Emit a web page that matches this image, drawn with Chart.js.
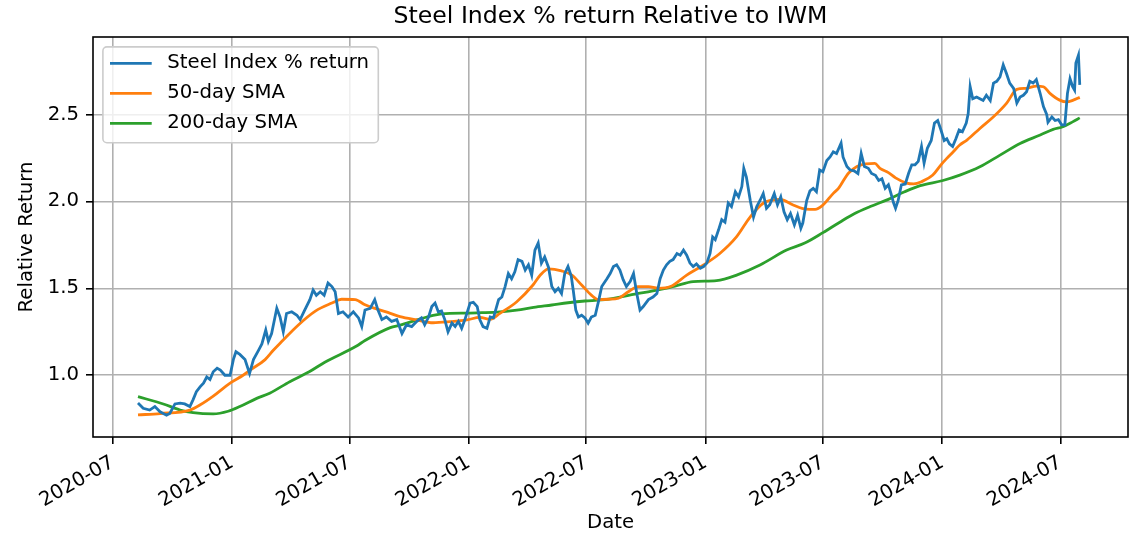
<!DOCTYPE html>
<html>
<head>
<meta charset="utf-8">
<title>Steel Index % return Relative to IWM</title>
<script src="https://cdn.jsdelivr.net/npm/chart.js@4.4.1/dist/chart.umd.min.js"></script>
<style>
  html, body { margin: 0; padding: 0; background: #fff; }
</style>
</head>
<body>
<canvas id="steelChart" width="1140" height="542"></canvas>
<script>
// steel index daily relative return (roughly every few trading days)
const steelDates = [
  '2020-08-09','2020-08-17','2020-08-27','2020-09-04','2020-09-12','2020-09-22','2020-09-27','2020-10-05','2020-10-13','2020-10-20',
  '2020-10-28','2020-11-02','2020-11-07','2020-11-13','2020-11-18','2020-11-23','2020-11-28','2020-12-03','2020-12-09','2020-12-14',
  '2020-12-21','2020-12-29','2021-01-03','2021-01-07','2021-01-13','2021-01-21','2021-01-28','2021-02-03','2021-02-11','2021-02-16',
  '2021-02-22','2021-02-26','2021-03-03','2021-03-11','2021-03-16','2021-03-21','2021-03-26','2021-04-03','2021-04-11','2021-04-16',
  '2021-04-23','2021-05-01','2021-05-06','2021-05-11','2021-05-17','2021-05-23','2021-05-29','2021-06-04','2021-06-09','2021-06-14',
  '2021-06-21','2021-06-29','2021-07-07','2021-07-15','2021-07-20','2021-07-25','2021-08-02','2021-08-09','2021-08-14','2021-08-20',
  '2021-08-27','2021-09-04','2021-09-12','2021-09-20','2021-09-27','2021-10-05','2021-10-13','2021-10-20','2021-10-25','2021-10-31',
  '2021-11-05','2021-11-10','2021-11-15','2021-11-20','2021-11-25','2021-11-30','2021-12-06','2021-12-11','2021-12-16','2021-12-21',
  '2021-12-26','2022-01-03','2022-01-08','2022-01-14','2022-01-18','2022-01-23','2022-01-29','2022-02-03','2022-02-08','2022-02-16',
  '2022-02-21','2022-02-26','2022-03-03','2022-03-08','2022-03-13','2022-03-18','2022-03-24','2022-03-29','2022-04-03','2022-04-08',
  '2022-04-13','2022-04-18','2022-04-23','2022-04-28','2022-05-04','2022-05-09','2022-05-14','2022-05-19','2022-05-24','2022-05-29',
  '2022-06-03','2022-06-08','2022-06-11','2022-06-15','2022-06-19','2022-06-24','2022-06-29','2022-07-04','2022-07-09','2022-07-15',
  '2022-07-20','2022-07-25','2022-08-02','2022-08-07','2022-08-12','2022-08-17','2022-08-22','2022-08-27','2022-09-01','2022-09-07',
  '2022-09-12','2022-09-17','2022-09-22','2022-09-27','2022-10-05','2022-10-12','2022-10-18','2022-10-23','2022-10-28','2022-11-02',
  '2022-11-07','2022-11-12','2022-11-18','2022-11-23','2022-11-28','2022-12-03','2022-12-08','2022-12-13','2022-12-18','2022-12-24',
  '2022-12-29','2023-01-03','2023-01-08','2023-01-12','2023-01-16','2023-01-21','2023-01-26','2023-01-31','2023-02-05','2023-02-10',
  '2023-02-16','2023-02-21','2023-02-26','2023-03-01','2023-03-05','2023-03-11','2023-03-16','2023-03-21','2023-03-26','2023-03-31',
  '2023-04-05','2023-04-10','2023-04-17','2023-04-22','2023-04-27','2023-05-02','2023-05-07','2023-05-12','2023-05-18','2023-05-23',
  '2023-05-28','2023-05-31','2023-06-06','2023-06-11','2023-06-16','2023-06-21','2023-06-26','2023-07-01','2023-07-07','2023-07-12',
  '2023-07-17','2023-07-22','2023-07-29','2023-08-01','2023-08-07','2023-08-12','2023-08-18','2023-08-24','2023-08-29','2023-09-03',
  '2023-09-09','2023-09-14','2023-09-20','2023-09-25','2023-09-30','2023-10-05','2023-10-10','2023-10-14','2023-10-18','2023-10-21',
  '2023-10-25','2023-10-30','2023-11-05','2023-11-10','2023-11-15','2023-11-20','2023-11-25','2023-11-30','2023-12-04','2023-12-09',
  '2023-12-15','2023-12-20','2023-12-25','2023-12-30','2024-01-04','2024-01-08','2024-01-12','2024-01-17','2024-01-22','2024-01-27',
  '2024-02-01','2024-02-07','2024-02-10','2024-02-13','2024-02-17','2024-02-23','2024-02-28','2024-03-04','2024-03-09','2024-03-15',
  '2024-03-20','2024-03-25','2024-03-30','2024-04-04','2024-04-09','2024-04-14','2024-04-20','2024-04-25','2024-04-30','2024-05-05',
  '2024-05-10','2024-05-15','2024-05-20','2024-05-25','2024-05-31','2024-06-05','2024-06-10','2024-06-12','2024-06-18','2024-06-23',
  '2024-06-28','2024-07-03','2024-07-08','2024-07-12','2024-07-16','2024-07-20','2024-07-23','2024-07-25','2024-07-29','2024-07-31'
];
const steelValues = [
  0.84, 0.81, 0.80, 0.82, 0.79, 0.77, 0.78, 0.835, 0.84, 0.835,
  0.82, 0.86, 0.905, 0.935, 0.955, 0.99, 0.975, 1.02, 1.04, 1.03,
  1.00, 1.00, 1.09, 1.135, 1.12, 1.09, 1.01, 1.09, 1.145, 1.18,
  1.26, 1.195, 1.24, 1.385, 1.335, 1.25, 1.355, 1.365, 1.345, 1.32,
  1.375, 1.435, 1.49, 1.46, 1.48, 1.46, 1.53, 1.51, 1.48, 1.355,
  1.365, 1.335, 1.365, 1.33, 1.28, 1.375, 1.385, 1.435, 1.375, 1.32,
  1.335, 1.31, 1.32, 1.24, 1.29, 1.28, 1.31, 1.33, 1.29, 1.335,
  1.395, 1.415, 1.365, 1.37, 1.32, 1.25, 1.30, 1.28, 1.31, 1.27,
  1.32, 1.415, 1.42, 1.395, 1.32, 1.28, 1.27, 1.335, 1.33, 1.435,
  1.45, 1.51, 1.585, 1.555, 1.595, 1.665, 1.655, 1.605, 1.635, 1.575,
  1.72, 1.76, 1.645, 1.68, 1.62, 1.51, 1.48, 1.50, 1.47, 1.585,
  1.625, 1.57, 1.49, 1.375, 1.335, 1.345, 1.33, 1.30, 1.335, 1.345,
  1.425, 1.51, 1.555, 1.585, 1.625, 1.635, 1.605, 1.55, 1.51, 1.54,
  1.585, 1.47, 1.375, 1.395, 1.435, 1.45, 1.47, 1.555, 1.605, 1.635,
  1.655, 1.665, 1.70, 1.69, 1.72, 1.69, 1.645, 1.625, 1.64, 1.615,
  1.625, 1.645, 1.70, 1.795, 1.78, 1.835, 1.895, 1.88, 1.99, 1.97,
  2.055, 2.025, 2.085, 2.19, 2.14, 2.005, 1.91, 1.97, 2.005, 2.045,
  1.96, 1.98, 2.045, 1.98, 2.025, 1.94, 1.895, 1.93, 1.865, 1.92,
  1.845, 1.875, 2.005, 2.06, 2.075, 2.055, 2.18, 2.17, 2.235, 2.255,
  2.285, 2.275, 2.335, 2.255, 2.20, 2.18, 2.175, 2.16, 2.275, 2.20,
  2.19, 2.16, 2.15, 2.12, 2.13, 2.075, 2.095, 2.045, 1.99, 1.96,
  2.005, 2.095, 2.10, 2.16, 2.21, 2.21, 2.23, 2.315, 2.22, 2.305,
  2.35, 2.45, 2.465, 2.41, 2.35, 2.36, 2.33, 2.315, 2.36, 2.41,
  2.40, 2.45, 2.505, 2.66, 2.59, 2.60, 2.59, 2.58, 2.61, 2.58,
  2.68, 2.69, 2.715, 2.785, 2.735, 2.68, 2.65, 2.565, 2.60, 2.61,
  2.63, 2.69, 2.68, 2.70, 2.62, 2.545, 2.50, 2.455, 2.485, 2.465,
  2.47, 2.44, 2.44, 2.62, 2.705, 2.66, 2.64, 2.795, 2.84, 2.67
];

// 50-day moving average
const sma50Dates = [
  '2020-08-09','2020-09-12','2020-10-28','2020-11-13','2020-12-03','2020-12-29','2021-01-18','2021-01-29','2021-02-21','2021-03-06',
  '2021-03-19','2021-04-12','2021-05-10','2021-06-04','2021-06-19','2021-07-10','2021-07-25','2021-08-13','2021-09-02','2021-09-17',
  '2021-10-13','2021-11-07','2021-12-03','2021-12-29','2022-01-18','2022-02-03','2022-02-18','2022-03-16','2022-04-10','2022-04-21',
  '2022-05-04','2022-05-24','2022-06-09','2022-06-24','2022-07-09','2022-07-20','2022-08-04','2022-08-20','2022-09-04','2022-09-19',
  '2022-10-05','2022-10-20','2022-11-08','2022-12-03','2022-12-29','2023-01-23','2023-02-18','2023-03-11','2023-03-31','2023-04-26',
  '2023-05-16','2023-06-05','2023-06-19','2023-06-30','2023-07-17','2023-07-25','2023-08-10','2023-09-05','2023-09-19','2023-09-27',
  '2023-10-10','2023-10-21','2023-11-07','2023-11-18','2023-11-30','2023-12-17','2023-12-30','2024-01-08','2024-01-18','2024-01-28',
  '2024-02-08','2024-02-28','2024-03-20','2024-04-09','2024-04-25','2024-05-10','2024-05-25','2024-06-05','2024-06-15','2024-06-30',
  '2024-07-11','2024-07-21','2024-07-31'
];
const sma50Values = [
  0.772, 0.78, 0.80, 0.83, 0.88, 0.955, 1.00, 1.03, 1.09, 1.145,
  1.195, 1.285, 1.37, 1.415, 1.437, 1.435, 1.405, 1.38, 1.356, 1.337,
  1.318, 1.302, 1.308, 1.318, 1.333, 1.322, 1.356, 1.423, 1.519, 1.575,
  1.612, 1.60, 1.576, 1.519, 1.461, 1.435, 1.437, 1.443, 1.48, 1.51,
  1.51, 1.50, 1.51, 1.576, 1.634, 1.70, 1.797, 1.911, 1.989, 2.011,
  1.979, 1.955, 1.954, 1.975, 2.046, 2.075, 2.165, 2.216, 2.218, 2.19,
  2.165, 2.135, 2.105, 2.10, 2.113, 2.15, 2.21, 2.247, 2.285, 2.324,
  2.352, 2.419, 2.486, 2.563, 2.644, 2.65, 2.663, 2.659, 2.621, 2.582,
  2.572, 2.582, 2.598
];

// 200-day moving average
const sma200Dates = [
  '2020-08-09','2020-09-17','2020-10-13','2020-11-02','2020-12-03','2020-12-26','2021-01-13','2021-02-08','2021-02-28','2021-03-31',
  '2021-04-30','2021-05-24','2021-07-12','2021-07-25','2021-09-02','2021-09-17','2021-10-13','2021-11-07','2021-12-03','2021-12-29',
  '2022-01-23','2022-02-18','2022-03-16','2022-04-11','2022-05-09','2022-06-03','2022-06-29','2022-07-25','2022-08-20','2022-09-14',
  '2022-10-10','2022-11-04','2022-11-15','2022-12-13','2023-01-18','2023-02-18','2023-03-26','2023-05-06','2023-06-03','2023-07-01',
  '2023-07-27','2023-08-19','2023-09-12','2023-10-09','2023-11-04','2023-11-28','2024-01-02','2024-01-28','2024-02-28','2024-03-30',
  '2024-04-30','2024-05-31','2024-06-20','2024-07-05','2024-07-20','2024-07-31'
];
const sma200Values = [
  0.877, 0.835, 0.80, 0.785, 0.778, 0.793, 0.82, 0.867, 0.897, 0.963,
  1.02, 1.075, 1.168, 1.20, 1.274, 1.288, 1.318, 1.345, 1.356, 1.357,
  1.36, 1.365, 1.375, 1.39, 1.404, 1.417, 1.427, 1.433, 1.448, 1.467,
  1.484, 1.503, 1.513, 1.538, 1.544, 1.576, 1.634, 1.72, 1.76, 1.82,
  1.88, 1.93, 1.97, 2.01, 2.055, 2.09, 2.12, 2.151, 2.199, 2.266,
  2.333, 2.381, 2.414, 2.429, 2.457, 2.48
];

const xTickDates = ['2020-07-01','2021-01-01','2021-07-01','2022-01-01','2022-07-01','2023-01-01','2023-07-01','2024-01-01','2024-07-01'];
const yTickValues = [1.0, 1.5, 2.0, 2.5];
const chartTitle = 'Steel Index % return Relative to IWM';

function toPoints(dates, values) {
  return dates.map((d, i) => ({ x: Date.parse(d), y: values[i] }));
}

Chart.defaults.font.family = '"DejaVu Sans", sans-serif';
Chart.defaults.color = '#000';

// matplotlib-ish frame, title centred over the axes, and in-axes legend
const axesDecor = {
  id: 'axesDecor',
  afterDatasetsDraw(chart) {
    const { ctx, chartArea: a } = chart;
    ctx.save();
    ctx.strokeStyle = '#000';
    ctx.lineWidth = 1.6;
    ctx.strokeRect(a.left, a.top, a.right - a.left, a.bottom - a.top);
    ctx.restore();
  },
  afterDraw(chart) {
    const { ctx, chartArea: a } = chart;
    ctx.save();
    ctx.font = '23.6px "DejaVu Sans"';
    ctx.fillStyle = '#000';
    ctx.textAlign = 'center';
    ctx.textBaseline = 'middle';
    ctx.fillText(chartTitle, (a.left + a.right) / 2, 16.5);

    const x = a.left + 9.9, y = a.top + 9.9, w = 275.4, h = 95.8, r = 4;
    ctx.beginPath();
    ctx.moveTo(x + r, y);
    ctx.arcTo(x + w, y, x + w, y + h, r);
    ctx.arcTo(x + w, y + h, x, y + h, r);
    ctx.arcTo(x, y + h, x, y, r);
    ctx.arcTo(x, y, x + w, y, r);
    ctx.closePath();
    ctx.fillStyle = 'rgba(255,255,255,0.8)';
    ctx.fill();
    ctx.strokeStyle = '#cccccc';
    ctx.lineWidth = 1.6;
    ctx.stroke();
    ctx.font = '19.7px "DejaVu Sans"';
    ctx.textAlign = 'left';
    chart.data.datasets.forEach((ds, i) => {
      const cy = y + 16.4 + i * 30;
      ctx.beginPath();
      ctx.moveTo(x + 7.1, cy);
      ctx.lineTo(x + 48.8, cy);
      ctx.strokeStyle = ds.borderColor;
      ctx.lineWidth = ds.borderWidth;
      ctx.stroke();
      ctx.fillStyle = '#000';
      ctx.fillText(ds.label, x + 64.4, cy);
    });
    ctx.restore();
  }
};

const ctx = document.getElementById('steelChart').getContext('2d');

new Chart(ctx, {
  type: 'line',
  data: {
    datasets: [
      {
        label: 'Steel Index % return',
        data: toPoints(steelDates, steelValues),
        borderColor: '#1f77b4',
        borderWidth: 2.8,
        pointRadius: 0,
        tension: 0
      },
      {
        label: '50-day SMA',
        data: toPoints(sma50Dates, sma50Values),
        borderColor: '#ff7f0e',
        borderWidth: 2.8,
        pointRadius: 0,
        cubicInterpolationMode: 'monotone'
      },
      {
        label: '200-day SMA',
        data: toPoints(sma200Dates, sma200Values),
        borderColor: '#2ca02c',
        borderWidth: 2.8,
        pointRadius: 0,
        cubicInterpolationMode: 'monotone'
      }
    ]
  },
  options: {
    responsive: false,
    animation: false,
    layout: { padding: { top: 37, right: 12, bottom: 0, left: 0 } },
    plugins: {
      legend: { display: false },
      tooltip: { enabled: false },
      title: { display: false }
    },
    scales: {
      x: {
        type: 'linear',
        min: Date.UTC(2020, 4, 31, 15),
        max: Date.UTC(2024, 9, 13, 9),
        afterBuildTicks: scale => { scale.ticks = xTickDates.map(d => ({ value: Date.parse(d) })); },
        afterFit: scale => { scale.height = 105; },
        grid: { color: '#b0b0b0', lineWidth: 1.6, tickColor: '#000', tickLength: 7, tickWidth: 1.6 },
        border: { display: false },
        ticks: {
          autoSkip: false,
          minRotation: 30,
          maxRotation: 30,
          padding: 7,
          font: { size: 19.7 },
          callback: v => new Date(v).toISOString().slice(0, 7)
        },
        title: { display: true, text: 'Date', font: { size: 19.7 }, padding: { top: 4, bottom: 7.2 } }
      },
      y: {
        min: 0.645,
        max: 2.945,
        afterBuildTicks: scale => { scale.ticks = yTickValues.map(v => ({ value: v })); },
        afterFit: scale => { scale.width = 93; },
        grid: { color: '#b0b0b0', lineWidth: 1.6, tickColor: '#000', tickLength: 7, tickWidth: 1.6 },
        border: { display: false },
        ticks: {
          padding: 7,
          font: { size: 19.7 },
          callback: v => v.toFixed(1)
        },
        title: { display: true, text: 'Relative Return', font: { size: 19.7 }, padding: { top: 15.2, bottom: 0 } }
      }
    }
  },
  plugins: [axesDecor]
});
</script>
</body>
</html>
